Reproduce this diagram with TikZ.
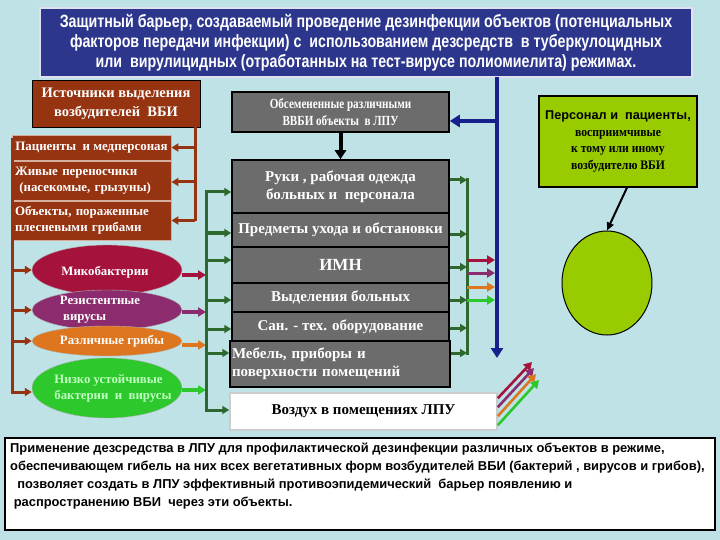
\documentclass[tikz,border=0pt]{standalone}
\usepackage{fontspec}
\setmainfont{Liberation Serif}
\newfontfamily\sansf{Liberation Sans}
\newfontfamily\narrowf{Liberation Sans}[FakeStretch=0.8]
\newfontfamily\narrowser{Liberation Serif}[FakeStretch=0.8]
\newfontfamily\semiser{Liberation Serif}[FakeStretch=0.9]
\usetikzlibrary{arrows.meta,shapes.geometric,calc}
\definecolor{bgc}{RGB}{190,226,230}
\definecolor{navy}{RGB}{44,54,140}
\definecolor{brn}{RGB}{150,52,18}
\definecolor{gry}{RGB}{108,108,108}
\definecolor{crim}{RGB}{165,18,60}
\definecolor{purp}{RGB}{140,44,110}
\definecolor{orng}{RGB}{222,118,32}
\definecolor{grn}{RGB}{44,200,44}
\definecolor{dgrn}{RGB}{46,104,46}
\definecolor{lime}{RGB}{153,204,0}
\definecolor{bline}{RGB}{24,32,140}
\tikzset{
  hdr/.style={fill=navy,draw=white!85!navy,line width=1.5pt,text=white,align=center,
    font=\narrowf\bfseries\fontsize{17.8}{20}\selectfont},
  brbox/.style={fill=brn,draw=white!60!brn,line width=0.8pt,text=white,
    font=\bfseries\fontsize{12.9}{16}\selectfont},
  gbox/.style={fill=gry,draw=black,line width=1.5pt,text=white,align=center,
    font=\bfseries\fontsize{15}{18}\selectfont},
  ell/.style={ellipse,draw=white!70!black,line width=0.4pt,inner sep=0pt},
  elltext/.style={text=white,inner sep=0pt,font=\bfseries\fontsize{12.8}{16}\selectfont},
  brnarrow/.style={draw=brn,line width=3pt,-{Triangle[length=7pt,width=8pt]}},
  brnline/.style={draw=brn,line width=3pt},
  grnline/.style={draw=dgrn,line width=3pt},
  grnarrow/.style={draw=dgrn,line width=3pt,-{Triangle[length=7pt,width=8pt]}},
  colarrow/.style={line width=3.5pt,-{Triangle[length=8pt,width=9pt]}},
}
\begin{document}
\begin{tikzpicture}[x=1pt,y=-1pt]
\fill[bgc] (0,0) rectangle (720,540);
\useasboundingbox (0,0) rectangle (720,540);

% header
\node[hdr,minimum width=652pt,minimum height=69pt] (top) at (366,42.5)
 {Защитный барьер, создаваемый проведение дезинфекции объектов (потенциальных\\
  факторов передачи инфекции) с~~использованием дезсредств~~в туберкулоцидных\\
  или~~вирулицидных (отработанных на тест-вирусе полиомиелита) режимах.};

% sources
\node[brbox,draw=black,align=center,minimum width=168pt,minimum height=47pt,
  font=\bfseries\fontsize{14.5}{19}\selectfont] (src) at (116,103.5)
 {Источники выделения\\ возбудителей~~ВБИ};
\node[brbox,minimum width=159pt,minimum height=25pt,inner sep=1pt] (s1) at (91.5,147.5) {Пациенты~~и медперсоная};
\node[brbox,align=left,minimum width=159pt,minimum height=39pt,text width=153pt,inner sep=1pt] (s2) at (91.5,181)
 {Живые переносчики\\ \ (насекомые, грызуны)};
\node[brbox,align=left,minimum width=159pt,minimum height=39pt,text width=153pt,inner sep=1pt] (s3) at (91.5,220.5)
 {Объекты, пораженные\\ плесневыми грибами};

\coordinate (srcb) at (195,127);
\draw[brnline] (srcb) -- (195,221.5);
\draw[brnarrow] (srcb |- s1.east) -- (s1.east);
\draw[brnarrow] ([yshift=-1pt]srcb |- s2.east) -- ([yshift=-1pt]s2.east);
\draw[brnarrow] (srcb |- s3.east) -- (s3.east);

% ellipses
\node[ell,fill=crim,minimum width=150pt,minimum height=50pt] (e1) at (107,270) {};
\node[elltext] (e1t) at (105,272) {Микобактерии};
\node[ell,fill=purp,minimum width=150pt,minimum height=40pt] (e2) at (107,310) {};
\node[elltext,align=left] (e2t) at (100,310) {Резистентные\\ \ вирусы};
\node[ell,fill=orng,minimum width=150pt,minimum height=30pt] (e3) at (107,341) {};
\node[elltext] (e3t) at (112,341) {Различные грибы};
\node[ell,fill=grn,minimum width=150pt,minimum height=60pt] (e4) at (107,388) {};
\node[elltext,text=white!75!green,align=left] (e4t) at (113,388) {Низко устойчивые\\ бактерии~~и~~вирусы};

\coordinate (lb) at (12,240);
\draw[brnline] (12,138) -- (12,394);
\draw[brnarrow] (lb |- e1.west) -- (e1.west);
\draw[brnarrow] (lb |- e2.west) -- (e2.west);
\draw[brnarrow] (lb |- e3.west) -- (e3.west);
\draw[brnarrow] ([yshift=-4pt]lb |- e4.west) -- ([yshift=-4pt]e4.west);

% gray objects
\node[gbox,minimum width=217pt,minimum height=40pt,font=\narrowser\bfseries\fontsize{13.9}{17}\selectfont] (ob) at (340.5,112)
 {Обсемененные различными\\ ВВБИ объекты~~в ЛПУ};
\node[gbox,minimum width=217pt,minimum height=53pt] (b1) at (340.5,186.5) {Руки , рабочая одежда\\ больных и~~персонала};
\node[gbox,minimum width=217pt,minimum height=34pt,inner sep=1pt] (b2) at (340.5,230) {Предметы ухода и обстановки};
\node[gbox,minimum width=217pt,minimum height=36pt,font=\bfseries\fontsize{17}{18}\selectfont] (b3) at (340.5,265) {ИМН};
\node[gbox,minimum width=217pt,minimum height=29pt] (b4) at (340.5,297.5) {Выделения больных};
\node[gbox,minimum width=217pt,minimum height=29pt] (b5) at (340.5,326.5) {Сан. - тех. оборудование};
\node[gbox,minimum width=220pt,minimum height=46pt,align=left,text width=216pt,inner sep=2pt] (b6) at (340,364)
 {Мебель, приборы и\\ поверхности помещений};
\node[gbox,fill=white,draw=white!80!black,text=black,minimum width=267pt,minimum height=37pt] (air) at (363.5,411.5) {Воздух в помещениях ЛПУ};

\draw[draw=black,line width=4pt,-{Triangle[length=9pt,width=11pt]}] (ob.south) -- (b1.north);

% ellipse outgoing arrows
\coordinate (gl) at (206,0);
\draw[colarrow,draw=crim] ([yshift=-5pt]e1.east) -- ([yshift=-5pt]e1.east -| gl);
\draw[colarrow,draw=purp] ([yshift=-2pt]e2.east) -- ([yshift=-2pt]e2.east -| gl);
\draw[colarrow,draw=orng] ([yshift=-4pt]e3.east) -- ([yshift=-4pt]e3.east -| gl);
\draw[colarrow,draw=grn] ([yshift=-2pt]e4.east) -- ([yshift=-2pt]e4.east -| gl);

% left green bus
\draw[grnline] (206,190.5) -- (206,411.5);
\draw[grnarrow] ([yshift=-5.5pt]b1.west -| gl) -- ([yshift=-5.5pt]b1.west);
\draw[grnarrow] ([yshift=-3pt]b2.west -| gl) -- ([yshift=-3pt]b2.west);
\draw[grnarrow] ([yshift=5pt]b3.west -| gl) -- ([yshift=5pt]b3.west);
\draw[grnarrow] ([yshift=-2.5pt]b4.west -| gl) -- ([yshift=-2.5pt]b4.west);
\draw[grnarrow] ([yshift=-2.5pt]b5.west -| gl) -- ([yshift=-2.5pt]b5.west);
\draw[grnarrow] ([yshift=11pt]b6.west -| gl) -- ([yshift=11pt]b6.west);
\draw[grnarrow] ([yshift=1.5pt]air.west -| gl) -- ([yshift=1.5pt]air.west);

% right green bus
\coordinate (rgl) at (467,0);
\draw[grnline] (467,178.5) -- (467,354.5);
\draw[grnarrow] ([yshift=6.5pt]b1.east) -- ([yshift=6.5pt]b1.east -| rgl);
\draw[grnarrow] ([yshift=-4pt]b2.east) -- ([yshift=-4pt]b2.east -| rgl);
\draw[grnarrow] ([yshift=-2pt]b3.east) -- ([yshift=-2pt]b3.east -| rgl);
\draw[grnarrow] ([yshift=-2.5pt]b4.east) -- ([yshift=-2.5pt]b4.east -| rgl);
\draw[grnarrow] ([yshift=-1.5pt]b5.east) -- ([yshift=-1.5pt]b5.east -| rgl);
\draw[grnarrow] ([yshift=11pt]b6.east) -- ([yshift=11pt]b6.east -| rgl);

% colored arrows from right bus
\coordinate (c1) at (467,260); \coordinate (c2) at (467,273);
\coordinate (c3) at (467,287); \coordinate (c4) at (467,300);
\coordinate (bl) at (495,0);
\draw[colarrow,line width=3pt,draw=crim] (c1) -- (c1 -| bl);
\draw[colarrow,line width=3pt,draw=purp] (c2) -- (c2 -| bl);
\draw[colarrow,line width=3pt,draw=orng] (c3) -- (c3 -| bl);
\draw[colarrow,line width=3pt,draw=grn] (c4) -- (c4 -| bl);

% blue line
\coordinate (bt) at (497,77);
\coordinate (bb) at (497,358);
\draw[draw=bline,line width=4.5pt,-{Triangle[length=10pt,width=12pt]}] (bt) -- (bb);
\draw[draw=bline,line width=4.5pt,-{Triangle[length=10pt,width=12pt]}] ([yshift=-9pt]ob.east -| bt) -- ([yshift=-9pt]ob.east);

% diagonal arrows from air
\coordinate (d1) at (532,362); \coordinate (d2) at (534,368);
\coordinate (d3) at (536,374); \coordinate (d4) at (539,380);
\draw[colarrow,line width=2.6pt,draw=crim] ([yshift=-6pt]air.north east) -- (d1);
\draw[colarrow,line width=2.6pt,draw=purp] ([yshift=-15pt]air.north east) -- (d2);
\draw[colarrow,line width=2.6pt,draw=orng] ([yshift=-24pt]air.north east) -- (d3);
\draw[colarrow,line width=2.6pt,draw=grn] ([yshift=-33pt]air.north east) -- (d4);

% susceptible
\node[fill=lime,draw=black,line width=1.2pt,minimum width=158pt,minimum height=91pt,align=center,
  font=\semiser\bfseries\fontsize{13}{16.5}\selectfont] (pers) at (618,141.5)
 {{\sansf\fontsize{12.7}{16.5}\selectfont Персонал и~~пациенты,}\\ восприимчивые\\ к тому или иному\\ возбудителю ВБИ};
\node[ellipse,fill=lime,draw=black,line width=1pt,minimum width=90pt,minimum height=104pt,inner sep=0pt] (circ) at (607,283) {};
\draw[line width=2pt,-{Triangle[length=8pt,width=7pt]}] ([xshift=9pt]pers.south) -- (circ.north);

% bottom box
\node[fill=white,draw=black,line width=2pt,minimum width=710pt,minimum height=92pt] (bot) at (360,484) {};
\node[anchor=north west,align=left,inner sep=0pt,font=\sansf\bfseries\fontsize{12.9}{18}\selectfont] (bottxt)
 at ([xshift=6pt,yshift=-6pt]bot.north west)
 {Применение дезсредства в ЛПУ для профилактической дезинфекции различных объектов в режиме,\\
  обеспечивающем гибель на них всех вегетативных форм возбудителей ВБИ (бактерий , вирусов и грибов),\\
  \ \ позволяет создать в ЛПУ эффективный противоэпидемический~~барьер появлению и\\
  \ распространению ВБИ~~через эти объекты.};
\end{tikzpicture}
\end{document}
